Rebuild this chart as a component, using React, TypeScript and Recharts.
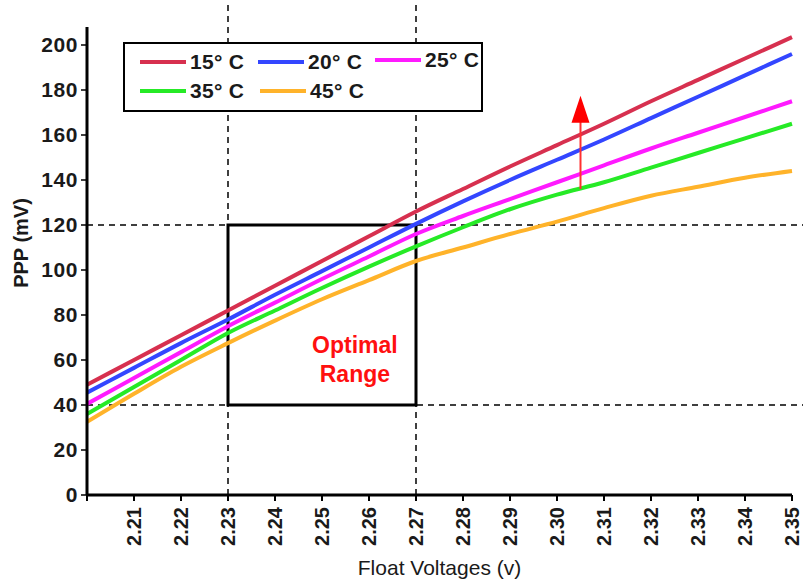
import React from 'react';
import {
  LineChart,
  Line,
  XAxis,
  YAxis,
  ReferenceLine,
  ReferenceArea,
  ReferenceDot,
} from 'recharts';

// float voltage (x) and PPP in mV per temperature
const volts = [2.2, 2.21, 2.22, 2.23, 2.24, 2.25, 2.26, 2.27, 2.28, 2.29, 2.3, 2.31, 2.32, 2.33, 2.34, 2.35];
const t15 = [49, 60, 71, 82, 93, 104, 115, 126, 136, 146, 155.5, 165, 175, 184.5, 194, 203.5];
const t20 = [45.5, 56.5, 67.5, 78, 89, 99.5, 110, 120.5, 130.5, 140, 149, 158, 167.5, 177, 186.5, 196];
const t25 = [40.5, 52, 63.5, 75, 85.5, 96, 106, 116, 124, 131.5, 139, 146.5, 154, 161, 168, 175];
const t35 = [36, 48, 60, 72, 82, 92, 101.5, 110.5, 119, 127, 133.5, 139, 145.5, 152, 158.5, 165];
const t45 = [32.5, 45, 57, 67.5, 77.5, 87, 95.5, 104, 110, 116, 121.5, 127.5, 133, 137, 141, 144];

const xTicks = [2.2, 2.21, 2.22, 2.23, 2.24, 2.25, 2.26, 2.27, 2.28, 2.29, 2.3, 2.31, 2.32, 2.33, 2.34, 2.35];
const yTicks = [0, 20, 40, 60, 80, 100, 120, 140, 160, 180, 200];

const series = [
  { key: 't15', name: '15° C', color: '#d7304f', values: t15 },
  { key: 't20', name: '20° C', color: '#3346ff', values: t20 },
  { key: 't25', name: '25° C', color: '#ff1aff', values: t25 },
  { key: 't35', name: '35° C', color: '#26ea26', values: t35 },
  { key: 't45', name: '45° C', color: '#ffb32a', values: t45 },
];

const data = volts.map((v, i) => {
  const row: Record<string, number> = { v };
  series.forEach((s) => {
    row[s.key] = s.values[i];
  });
  return row;
});

const FONT = '"Liberation Sans", Arial, Helvetica, sans-serif';
const INK = '#1a1a1a';

const XTick = (props: any) => {
  const { x, y, payload } = props;
  if (payload.value < 2.205) return null;
  return (
    <g transform={`translate(${x},${y})`}>
      <text
        transform="rotate(-90)"
        x={-4}
        y={0}
        dy="0.36em"
        textAnchor="end"
        fill={INK}
        fontSize={20}
        fontWeight="bold"
        fontFamily={FONT}
      >
        {payload.value.toFixed(2)}
      </text>
    </g>
  );
};

const YTitle = () => (
  <text
    x={21}
    y={243}
    transform="rotate(-90, 21, 243)"
    textAnchor="middle"
    dominantBaseline="central"
    fill={INK}
    fontSize={20}
    fontWeight="bold"
    fontFamily={FONT}
  >
    PPP (mV)
  </text>
);

// legend item positions inside the box
const legendSlots = [
  { left: 14, top: 18 },
  { left: 132, top: 18 },
  { left: 249, top: 16 },
  { left: 14, top: 47 },
  { left: 134, top: 47 },
];

export default function App() {
  return (
    <div style={{ position: 'relative', width: 803, height: 579, background: '#fff' }}>
      <style>{'html,body{margin:0;padding:0;overflow:hidden;background:#fff}'}</style>
      <LineChart width={803} height={579} data={data} margin={{ top: 27, right: 11, bottom: 0, left: 0 }}>
        <XAxis
          dataKey="v"
          type="number"
          domain={[2.2, 2.35]}
          ticks={xTicks}
          interval={0}
          height={84}
          axisLine={{ stroke: '#000', strokeWidth: 3 }}
          tickLine={{ stroke: '#000', strokeWidth: 2 }}
          tickSize={6}
          tick={<XTick />}
          label={{
            value: 'Float Voltages (v)',
            position: 'insideBottom',
            offset: 4,
            fill: INK,
            fontSize: 21,
            fontFamily: FONT,
          }}
        />
        <YAxis
          type="number"
          domain={[0, 208]}
          ticks={yTicks}
          interval={0}
          width={87}
          axisLine={{ stroke: '#000', strokeWidth: 3 }}
          tickLine={{ stroke: '#000', strokeWidth: 1.5 }}
          tickSize={6}
          tickMargin={3}
          tick={{ fill: INK, fontSize: 21, fontWeight: 'bold', fontFamily: FONT, letterSpacing: 0.6 }}
          label={<YTitle />}
        />

        <ReferenceLine
          segment={[{ x: 2.23, y: 0 }, { x: 2.23, y: 218 }]}
          ifOverflow="visible"
          stroke="#000"
          strokeWidth={1.5}
          strokeDasharray="6 5"
        />
        <ReferenceLine
          segment={[{ x: 2.27, y: 0 }, { x: 2.27, y: 218 }]}
          ifOverflow="visible"
          stroke="#000"
          strokeWidth={1.5}
          strokeDasharray="6 5"
        />
        <ReferenceLine
          segment={[{ x: 2.2, y: 120 }, { x: 2.3525, y: 120 }]}
          ifOverflow="visible"
          stroke="#000"
          strokeWidth={1.5}
          strokeDasharray="6 5"
        />
        <ReferenceLine
          segment={[{ x: 2.2, y: 40 }, { x: 2.3525, y: 40 }]}
          ifOverflow="visible"
          stroke="#000"
          strokeWidth={1.5}
          strokeDasharray="6 5"
        />

        {series.map((s) => (
          <Line
            key={s.key}
            type="monotone"
            dataKey={s.key}
            name={s.name}
            stroke={s.color}
            strokeWidth={4}
            dot={false}
            isAnimationActive={false}
          />
        ))}

        <ReferenceArea
          x1={2.23}
          x2={2.27}
          y1={40}
          y2={120}
          fill="none"
          fillOpacity={0}
          stroke="#000"
          strokeWidth={3}
        />

        <ReferenceDot
          x={2.257}
          y={60.5}
          r={0}
          shape={(p: any) => (
            <text
              x={p.cx}
              y={p.cy}
              textAnchor="middle"
              fill="#ff1010"
              fontSize={23}
              fontWeight="bold"
              fontFamily={FONT}
            >
              <tspan x={p.cx} dy={-6}>Optimal</tspan>
              <tspan x={p.cx} dy={29}>Range</tspan>
            </text>
          )}
        />

        <ReferenceLine
          segment={[{ x: 2.305, y: 136 }, { x: 2.305, y: 166 }]}
          stroke="#ff3030"
          strokeWidth={2}
        />
        <ReferenceDot
          x={2.305}
          y={177.5}
          r={0}
          shape={(p: any) => (
            <polygon
              points={`${p.cx},${p.cy} ${p.cx - 9},${p.cy + 27} ${p.cx + 9},${p.cy + 27}`}
              fill="#ff0000"
            />
          )}
        />
      </LineChart>

      <div
        style={{
          position: 'absolute',
          left: 123,
          top: 42,
          width: 356,
          height: 66,
          border: '2px solid #000',
          background: '#fff',
          fontFamily: FONT,
        }}
      >
        {series.map((s, i) => (
          <div
            key={s.key}
            style={{
              position: 'absolute',
              left: legendSlots[i].left,
              top: legendSlots[i].top - 12,
              height: 24,
              display: 'flex',
              alignItems: 'center',
              whiteSpace: 'nowrap',
            }}
          >
            <svg width={48} height={6} style={{ display: 'block' }}>
              <line x1={1} y1={3} x2={47} y2={3} stroke={s.color} strokeWidth={4} />
            </svg>
            <span style={{ marginLeft: 3, fontSize: 21, fontWeight: 'bold', color: INK, letterSpacing: 0.3 }}>
              {s.name}
            </span>
          </div>
        ))}
      </div>
    </div>
  );
}
